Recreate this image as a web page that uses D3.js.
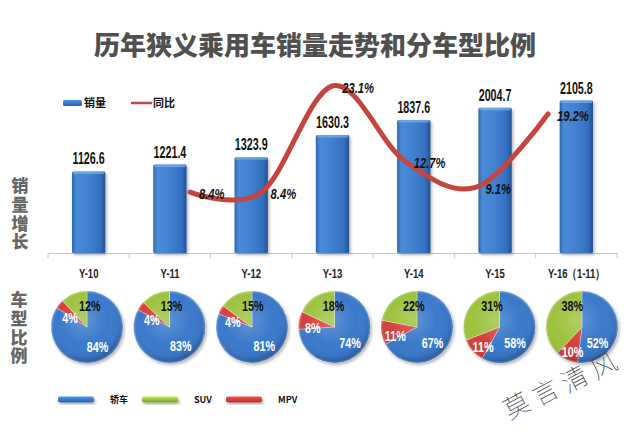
<!DOCTYPE html>
<html><head><meta charset="utf-8">
<script src="https://cdn.jsdelivr.net/npm/d3@7"></script>
<style>body{margin:0;background:#fff;overflow:hidden}</style>
</head><body>
<svg id="chart" width="630" height="433"></svg>
<script>
// ---------- data ----------
const categories = ["Y-10","Y-11","Y-12","Y-13","Y-14","Y-15","Y-16（1-11）"];
const sales = [1126.6,1221.4,1323.9,1630.3,1837.6,2004.7,2105.8];
const growthYears = ["Y-11","Y-12","Y-13","Y-14","Y-15","Y-16（1-11）"];
const growth = [8.4,8.4,23.1,12.7,9.1,19.2];
const sedanShare = [84,83,81,74,67,58,52];
const mpvShare = [4,4,4,8,11,11,10];
const suvShare = [12,13,15,18,22,31,38];
const seriesNames = ["轿车","SUV","MPV"];
const salesDomain = [0,2500];
const growthDomain = [0,25];

// ---------- setup ----------
const svg = d3.select("#chart");
const narrow = '"Liberation Sans",Arial,sans-serif';
const cjk = '"Noto Sans CJK SC","Noto Sans",sans-serif';
const colors = {sedan:"#3b7acb", suv:"#9dc23e", mpv:"#d6403b", line:"#c4443f"};

const defs = svg.append("defs");
const barGrad = defs.append("linearGradient").attr("id","barGrad").attr("x1",0).attr("x2",1).attr("y1",0).attr("y2",0);
[["0%","#2f64ad"],["12%","#4a8ad7"],["45%","#4283d2"],["85%","#3370bf"],["100%","#264f92"]].forEach(s=>barGrad.append("stop").attr("offset",s[0]).attr("stop-color",s[1]));
const shade = defs.append("radialGradient").attr("id","pieShade").attr("cx","45%").attr("cy","40%").attr("r","62%");
[["0%","#ffffff",0.2],["55%","#ffffff",0.0],["82%","#000000",0.05],["100%","#000000",0.32]].forEach(s=>shade.append("stop").attr("offset",s[0]).attr("stop-color",s[1]).attr("stop-opacity",s[2]));
const sh = defs.append("filter").attr("id","shadow").attr("x","-20%").attr("y","-20%").attr("width","150%").attr("height","150%");
sh.append("feDropShadow").attr("dx",1.5).attr("dy",2).attr("stdDeviation",1.5).attr("flood-color","#000").attr("flood-opacity",0.3);
function swGrad(id, c){
  const g = defs.append("linearGradient").attr("id",id).attr("x1",0).attr("x2",0).attr("y1",0).attr("y2",1);
  g.append("stop").attr("offset","0%").attr("stop-color",d3.color(c).brighter(0.6));
  g.append("stop").attr("offset","50%").attr("stop-color",c);
  g.append("stop").attr("offset","100%").attr("stop-color",d3.color(c).darker(0.6));
  return `url(#${id})`;
}

// ---------- title ----------
svg.append("text").attr("x",315).attr("y",55).attr("text-anchor","middle")
  .style("font-family",cjk).style("font-weight","900").style("font-size","26px").attr("fill","#505050")
  .text("历年狭义乘用车销量走势和分车型比例");

// ---------- scales ----------
const x = d3.scaleBand().domain(categories).range([48,617]);
const y = d3.scaleLinear().domain(salesDomain).range([253,72]);
const yPct = d3.scaleLinear().domain(growthDomain).range([253,72]);
const xLine = d3.scalePoint().domain(growthYears).range([190,548]);
const xPie = d3.scalePoint().domain(categories).range([87,582]);
const barW = x.bandwidth()*0.41;

// ---------- axis ----------
const axisG = svg.append("g").attr("transform",`translate(0,${y(0)})`)
  .call(d3.axisBottom(x).tickValues([]).tickSizeOuter(0));
axisG.select(".domain").attr("stroke","#c4c4c4");
const boundaries = categories.map(c=>x(c)).concat([x.range()[1]]);
axisG.selectAll("line.bnd").data(boundaries).join("line").attr("class","bnd")
  .attr("x1",d=>d).attr("x2",d=>d).attr("y1",0).attr("y2",5).attr("stroke","#c4c4c4");

// ---------- bars ----------
const bars = svg.append("g");
bars.selectAll("rect").data(sales).join("rect")
  .attr("x",(d,i)=>x(categories[i])+x.bandwidth()/2-barW/2)
  .attr("y",d=>y(d)).attr("width",barW).attr("height",d=>y(0)-y(d))
  .attr("rx",1.5).attr("fill","url(#barGrad)").attr("filter","url(#shadow)");
bars.selectAll("rect.cap").data(sales).join("rect").attr("class","cap")
  .attr("x",(d,i)=>x(categories[i])+x.bandwidth()/2-barW/2+1)
  .attr("y",d=>y(d)).attr("width",barW-2).attr("height",2.5)
  .attr("fill","#7fb0ea").attr("opacity",0.7);
bars.selectAll("text").data(sales).join("text")
  .attr("transform",(d,i)=>`translate(${x(categories[i])+x.bandwidth()/2},${y(d)-7}) scale(0.65,1)`)
  .attr("text-anchor","middle").style("font-family",narrow).style("font-weight","bold")
  .style("font-size","16.5px").attr("fill","#111").text(d=>d.toFixed(1));

// ---------- line ----------
const lineGen = d3.line().x((d,i)=>xLine(growthYears[i])).y(d=>yPct(d)).curve(d3.curveCardinal.tension(0));
svg.append("path").datum(growth).attr("d",lineGen).attr("fill","none")
  .attr("stroke",colors.line).attr("stroke-width",5).attr("stroke-linecap","round");
svg.append("g").selectAll("text").data(growth).join("text")
  .attr("transform",(d,i)=>`translate(${xLine(growthYears[i])+9},${yPct(d)+7}) scale(0.8,1)`)
  .style("font-family",narrow).style("font-weight","bold")
  .style("font-style","italic").style("font-size","14px").attr("fill","#111").text(d=>d.toFixed(1)+"%");

// ---------- top legend ----------
const lg = svg.append("g");
lg.append("rect").attr("x",63).attr("y",100).attr("width",19).attr("height",6).attr("rx",1.5).attr("fill",swGrad("lgBar",colors.sedan));
lg.append("text").attr("x",84).attr("y",107).style("font-family",cjk).style("font-weight","bold").style("font-size","11px").attr("fill","#111").text("销量");
lg.append("line").attr("x1",131).attr("x2",152).attr("y1",103).attr("y2",103).attr("stroke",colors.line).attr("stroke-width",2.5);
lg.append("text").attr("x",153).attr("y",107).style("font-family",cjk).style("font-weight","bold").style("font-size","11px").attr("fill","#111").text("同比");

// ---------- category labels ----------
svg.append("g").selectAll("text").data(categories).join("text")
  .attr("transform",d=>`translate(${x(d)+x.bandwidth()/2},${278}) scale(0.76,1)`)
  .attr("text-anchor","middle").style("font-family",narrow).style("font-weight","bold")
  .style("font-size","12.5px").attr("fill","#222").text(d=>d);

// ---------- side labels (vertical text) ----------
function vlabel(str, cx, top){
  svg.append("text").attr("x",cx).attr("y",top)
    .style("writing-mode","vertical-rl").style("text-orientation","upright")
    .style("letter-spacing","1.8px")
    .style("font-family",cjk).style("font-weight","900").style("font-size","17px").attr("fill","#666").text(str);
}
vlabel("销量增长",20,177);
vlabel("车型比例",19,291);

// ---------- pies ----------
const R = 36, pieY = 327, LR = 22;
const pie = d3.pie().sort(null).value(d=>d.v);
const arc = d3.arc().innerRadius(0).outerRadius(R);
const deg = Math.PI/180;
function labelPos(d){
  const mid=(d.startAngle+d.endAngle)/2;
  if(d.data.k==="sedan"){ const a=Math.max(mid,135*deg); return {x:Math.sin(a)*LR, y:-Math.cos(a)*LR, anchor:"middle"}; }
  if(d.data.k==="mpv"){ return {x:Math.sin(mid)*LR, y:-Math.cos(mid)*LR+5, anchor:"middle"}; }
  return {x:Math.sin(mid)*LR, y:-LR, anchor:"start"};
}
categories.forEach((c,i)=>{
  const data = [{k:"sedan",v:sedanShare[i]},{k:"mpv",v:mpvShare[i]},{k:"suv",v:suvShare[i]}];
  const g = svg.append("g").attr("transform",`translate(${xPie(c)},${pieY})`);
  const arcs = pie(data);
  g.append("circle").attr("r",R).attr("fill","#fff").attr("filter","url(#shadow)");
  g.selectAll("path").data(arcs).join("path").attr("d",arc).attr("fill",d=>colors[d.data.k])
    .attr("stroke","#ffffff").attr("stroke-opacity",0.5).attr("stroke-width",0.6);
  g.append("circle").attr("r",R).attr("fill","url(#pieShade)");
  g.append("circle").attr("r",R-1).attr("fill","none").attr("stroke","#ffffff").attr("stroke-opacity",0.15).attr("stroke-width",1.5);
  g.selectAll("text").data(arcs).join("text")
    .each(function(d){ const p=labelPos(d);
      d3.select(this).attr("transform",`translate(${p.x},${p.y+5.5}) scale(0.72,1)`).attr("text-anchor",p.anchor); })
    .style("font-family",narrow).style("font-weight","bold").style("font-size","15px")
    .attr("fill",d=>d.data.k==="suv"?"#111":"#fff").text(d=>d.data.v+"%");
});

// ---------- bottom legend ----------
const bl = svg.append("g");
const legendKeys = ["sedan","suv","mpv"];
const lx = d3.scalePoint().domain(legendKeys).range([58,226]);
legendKeys.forEach((k,i)=>{
  bl.append("rect").attr("x",lx(k)).attr("y",396.5).attr("width",36).attr("height",6).attr("rx",2)
    .attr("fill",swGrad("lg"+k,colors[k])).attr("filter","url(#shadow)");
  bl.append("text").attr("x",lx(k)+52).attr("y",403)
    .style("font-family",cjk).style("font-weight","bold").style("font-size","9px").attr("fill","#111").text(seriesNames[i]);
});

// ---------- watermark ----------
const wm = ["莫","言","清","风"];
const wx = d3.scaleLinear().domain([0,3]).range([521,608]);
const wy = d3.scaleLinear().domain([0,3]).range([405,365]);
svg.append("g").selectAll("text").data(wm).join("text")
  .attr("transform",(d,i)=>`translate(${wx(i)},${wy(i)+9}) rotate(-28)`)
  .attr("text-anchor","middle")
  .style("font-family",cjk).style("font-weight","100").style("font-size","26px").attr("fill","#444").text(d=>d);
</script>
</body></html>
